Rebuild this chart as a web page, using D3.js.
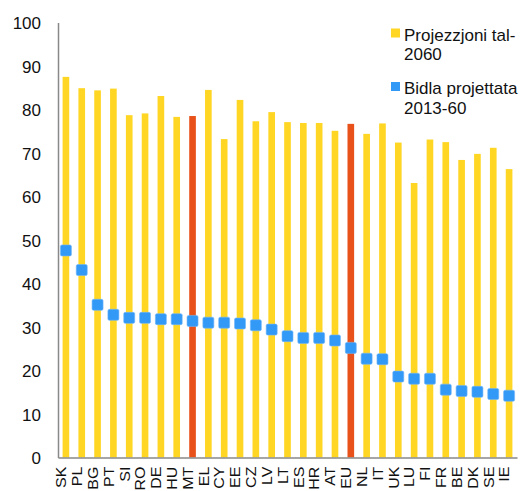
<!DOCTYPE html>
<html lang="mt">
<head>
<meta charset="utf-8">
<title>Projezzjoni tal-2060</title>
<script src="https://cdn.jsdelivr.net/npm/d3@7"></script>
<style>
  body { margin: 0; background: #fff; }
  svg text { font-family: "Liberation Sans", Arial, sans-serif; fill: #111; }
</style>
</head>
<body>
<div id="chart"></div>
<script>
// data
var countries = ["SK","PL","BG","PT","SI","RO","DE","HU","MT","EL","CY","EE","CZ","LV","LT",
                 "ES","HR","AT","EU","NL","IT","UK","LU","FI","FR","BE","DK","SE","IE"];
var proj2060 = [87.5, 84.9, 84.4, 84.8, 78.7, 79.1, 83.1, 78.3, 78.5, 84.5, 73.2, 82.2, 77.3, 79.4, 77.1,
                76.9, 76.9, 75.1, 76.7, 74.4, 76.8, 72.4, 63.1, 73.1, 72.5, 68.4, 69.8, 71.2, 66.3];
var change1360 = [47.6, 43.1, 35.1, 32.8, 32.1, 32.1, 31.8, 31.8, 31.4, 31.0, 31.0, 30.8, 30.4, 29.4, 27.9,
                  27.5, 27.5, 26.9, 25.2, 22.7, 22.6, 18.6, 18.1, 18.1, 15.6, 15.3, 15.1, 14.6, 14.2];
var highlighted = ["MT", "EU"];
var yTicks = [0, 10, 20, 30, 40, 50, 60, 70, 80, 90, 100];
var legendNames = [["Projezzjoni tal-", "2060"], ["Bidla projettata", "2013-60"]];

var width = 525, height = 491;
var yellow = "#ffd624", orange = "#e8521a", blue = "#3399f7", axisGrey = "#898989";

var svg = d3.select("#chart").append("svg")
    .attr("width", width)
    .attr("height", height);

var x = d3.scaleBand()
    .domain(countries)
    .range([58, 517]);

var y = d3.scaleLinear()
    .domain([0, 100])
    .range([457.5, 22.5]);

// bars
var barW = x.bandwidth() * 0.42;
svg.append("g").selectAll("rect")
    .data(countries)
    .enter().append("rect")
    .attr("x", function (d) { return x(d) + x.bandwidth() / 2 - barW / 2; })
    .attr("y", function (d, i) { return y(proj2060[i]); })
    .attr("width", barW)
    .attr("height", function (d, i) { return y(0) - y(proj2060[i]); })
    .attr("fill", function (d) { return highlighted.indexOf(d) >= 0 ? orange : yellow; });

// y axis
var yAxis = svg.append("g")
    .attr("transform", "translate(58,0)")
    .call(d3.axisLeft(y).tickValues(yTicks).tickSize(0).tickSizeOuter(0).tickPadding(17));
yAxis.select(".domain").attr("stroke", axisGrey).attr("stroke-width", 1.5);
yAxis.selectAll("text")
    .style("font-size", "17px")
    .attr("dy", "0.36em");

// x axis, labels turned upright and a bit stretched like the original
var xAxis = svg.append("g")
    .attr("transform", "translate(0," + y(0) + ")")
    .call(d3.axisBottom(x).tickSize(0).tickSizeOuter(0));
xAxis.select(".domain").attr("stroke", axisGrey).attr("stroke-width", 1.5);
xAxis.selectAll("text")
    .style("font-size", "14px")
    .attr("transform", "rotate(-90) scale(1.14,1)")
    .attr("text-anchor", "end")
    .attr("x", -8)
    .attr("y", 0)
    .attr("dy", "0.02em");

// change markers
var m = 11;
svg.append("g").selectAll("rect")
    .data(countries)
    .enter().append("rect")
    .attr("x", function (d) { return x(d) + x.bandwidth() / 2 - m / 2; })
    .attr("y", function (d, i) { return y(change1360[i]) - m / 2; })
    .attr("width", m)
    .attr("height", m)
    .attr("rx", 1.5)
    .attr("fill", blue)
    .attr("stroke", "#6fb6fa")
    .attr("stroke-width", 0.6);

// legend
var legend = svg.append("g");
var legendColors = [yellow, blue];
var legendTop = [28.5, 82];
legendNames.forEach(function (lines, i) {
    legend.append("rect")
        .attr("x", 391)
        .attr("y", legendTop[i])
        .attr("width", 9)
        .attr("height", 9)
        .attr("fill", legendColors[i]);
    var t = legend.append("text")
        .attr("x", 404)
        .attr("y", legendTop[i] + 12.3)
        .style("font-size", "17px");
    lines.forEach(function (s, j) {
        t.append("tspan")
            .attr("x", 404)
            .attr("dy", j === 0 ? 0 : 19.6)
            .text(s);
    });
});
</script>
</body>
</html>
